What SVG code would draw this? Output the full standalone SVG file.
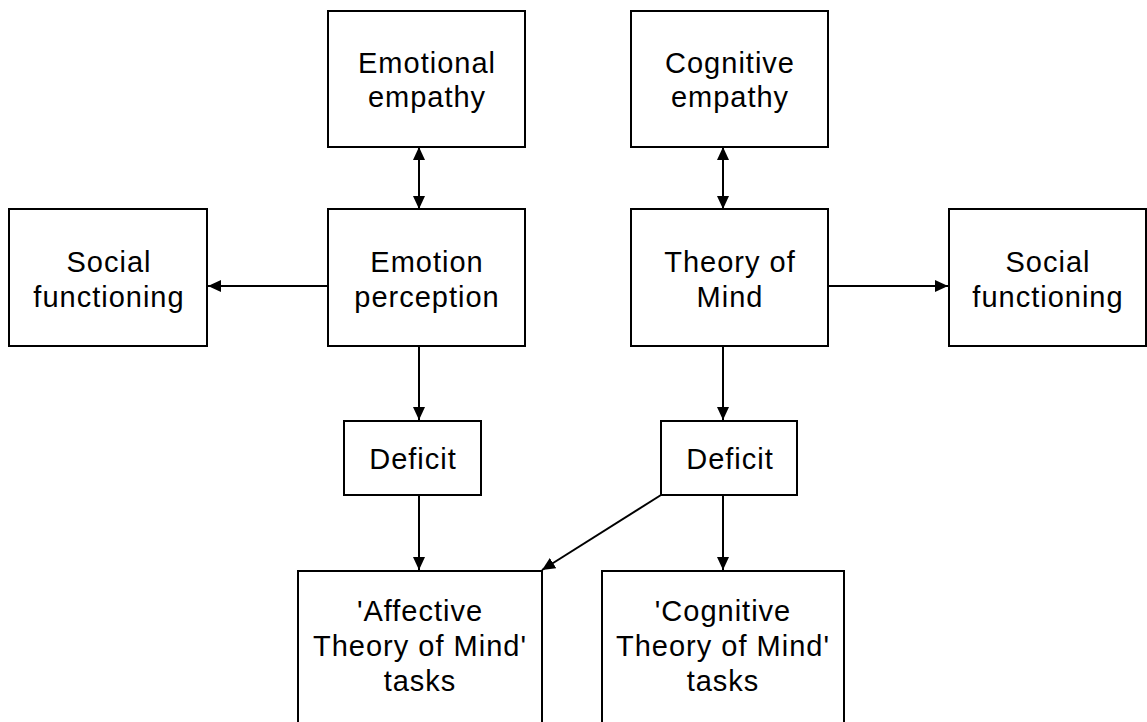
<svg xmlns="http://www.w3.org/2000/svg" width="1147" height="722" viewBox="0 0 1147 722">
<style>
.box{fill:#fff;stroke:#000;stroke-width:2}
.lbl{font-family:"Liberation Sans",Arial,sans-serif;font-size:29px;letter-spacing:1px;fill:#000;text-anchor:middle}
.con{fill:none;stroke:#000;stroke-width:2}
</style>
<defs>
<marker id="ah" viewBox="0 0 13 12" refX="13" refY="6" markerWidth="13" markerHeight="12" markerUnits="userSpaceOnUse" orient="auto-start-reverse">
<path d="M0,0 L13,6 L0,12 z" fill="#000"/>
</marker>
</defs>
<rect width="1147" height="722" fill="#fff"/>
<g id="connectors">
<line class="con" x1="419" y1="147" x2="419" y2="209" marker-start="url(#ah)" marker-end="url(#ah)"/>
<line class="con" x1="723" y1="147" x2="723" y2="209" marker-start="url(#ah)" marker-end="url(#ah)"/>
<line class="con" x1="328" y1="286" x2="208" y2="286" marker-end="url(#ah)"/>
<line class="con" x1="828" y1="286" x2="948" y2="286" marker-end="url(#ah)"/>
<line class="con" x1="419" y1="346" x2="419" y2="420" marker-end="url(#ah)"/>
<line class="con" x1="723" y1="346" x2="723" y2="420" marker-end="url(#ah)"/>
<line class="con" x1="419" y1="495" x2="419" y2="570" marker-end="url(#ah)"/>
<line class="con" x1="723" y1="495" x2="723" y2="570" marker-end="url(#ah)"/>
<line class="con" x1="661" y1="495" x2="542" y2="570" marker-end="url(#ah)"/>
</g>
<g id="emotional-empathy"><rect class="box" x="328" y="11" width="197" height="136"/><text class="lbl" x="427" y="73">Emotional</text><text class="lbl" x="427" y="107">empathy</text></g>
<g id="cognitive-empathy"><rect class="box" x="631" y="11" width="197" height="136"/><text class="lbl" x="730" y="73">Cognitive</text><text class="lbl" x="730" y="107">empathy</text></g>
<g id="social-left"><rect class="box" x="9" y="209" width="198" height="137"/><text class="lbl" x="109" y="272">Social</text><text class="lbl" x="109" y="307">functioning</text></g>
<g id="emotion-perception"><rect class="box" x="328" y="209" width="197" height="137"/><text class="lbl" x="427" y="272">Emotion</text><text class="lbl" x="427" y="307">perception</text></g>
<g id="theory-of-mind"><rect class="box" x="631" y="209" width="197" height="137"/><text class="lbl" x="730" y="272">Theory of</text><text class="lbl" x="730" y="307">Mind</text></g>
<g id="social-right"><rect class="box" x="949" y="209" width="197" height="137"/><text class="lbl" x="1048" y="272">Social</text><text class="lbl" x="1048" y="307">functioning</text></g>
<g id="deficit-left"><rect class="box" x="344" y="421" width="137" height="74"/><text class="lbl" x="413" y="469">Deficit</text></g>
<g id="deficit-right"><rect class="box" x="661" y="421" width="136" height="74"/><text class="lbl" x="730" y="469">Deficit</text></g>
<g id="affective-tom"><rect class="box" x="298" y="571" width="244" height="190"/><text class="lbl" x="420" y="621">'Affective</text><text class="lbl" x="420" y="656">Theory of Mind'</text><text class="lbl" x="420" y="691">tasks</text></g>
<g id="cognitive-tom"><rect class="box" x="602" y="571" width="242" height="190"/><text class="lbl" x="723" y="621">'Cognitive</text><text class="lbl" x="723" y="656">Theory of Mind'</text><text class="lbl" x="723" y="691">tasks</text></g>
</svg>
